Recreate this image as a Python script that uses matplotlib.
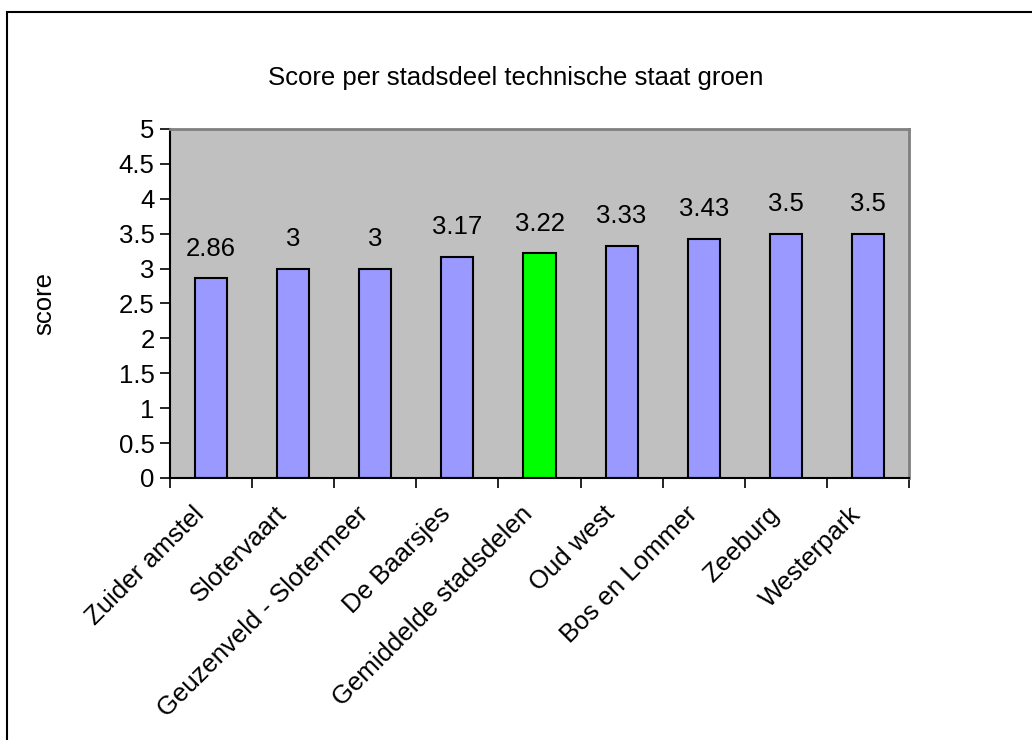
import matplotlib
matplotlib.use("Agg")
import matplotlib.pyplot as plt
from matplotlib.patches import Rectangle
import numpy as np

plt.rcParams['font.family'] = ['Liberation Sans', 'DejaVu Sans']

categories = ["Zuider amstel", "Slotervaart", "Geuzenveld - Slotermeer", "De Baarsjes",
              "Gemiddelde stadsdelen", "Oud west", "Bos en Lommer", "Zeeburg", "Westerpark"]
scores = [2.86, 3, 3, 3.17, 3.22, 3.33, 3.43, 3.5, 3.5]
labels = ["2.86", "3", "3", "3.17", "3.22", "3.33", "3.43", "3.5", "3.5"]
colors = ["#9999FF"] * 4 + ["#00FF00"] + ["#9999FF"] * 4

fs = 18.5
fig = plt.figure(figsize=(10.32, 7.4), dpi=100)
fig.patches.append(Rectangle((7/1032, -0.1), 1.2, 1 - 12/740 + 0.1, transform=fig.transFigure,
                             fill=False, edgecolor='black', linewidth=1.5))

ax = fig.add_axes([170/1032, 1 - 478/740, (909 - 170)/1032, (478 - 129)/740])
ax.set_facecolor('#C0C0C0')
x = np.arange(len(categories))
ax.bar(x, scores, width=0.39, color=colors, edgecolor='black', linewidth=1.5, zorder=2)
for xi, s, lab in zip(x, scores, labels):
    ax.text(xi, s + 0.25, lab, ha='center', va='bottom', fontsize=fs)

ax.set_xlim(-0.5, len(categories) - 0.5)
ax.set_ylim(0, 5)
ax.set_yticks(np.arange(0, 5.01, 0.5))
ax.set_yticklabels(["0", "0.5", "1", "1.5", "2", "2.5", "3", "3.5", "4", "4.5", "5"], fontsize=fs)
ax.set_xticks(np.arange(-0.5, len(categories)))
ax.set_xticklabels([])
ax.tick_params(axis='x', length=7, width=1.2, direction='out')
ax.tick_params(axis='y', length=7, width=1.2, direction='out', pad=4)
for xi, cat in zip(x, categories):
    ax.annotate(cat, xy=(xi, 0), xycoords=('data', 'axes fraction'),
                xytext=(-19 * 0.72, -24 * 0.72), textcoords='offset points',
                rotation=45, ha='right', va='top', rotation_mode='anchor',
                fontsize=fs, annotation_clip=False)

for side in ['top', 'right']:
    ax.spines[side].set_color('#808080')
    ax.spines[side].set_linewidth(2)
for side in ['left', 'bottom']:
    ax.spines[side].set_color('black')
    ax.spines[side].set_linewidth(1.5)

ax.set_ylabel("score", fontsize=fs)
ax.yaxis.set_label_coords((56 - 170) / 739, 0.5)
fig.text(0.5, 1 - 78/740, "Score per stadsdeel technische staat groen", ha='center', va='center', fontsize=fs)

fig.savefig("out.png", dpi=100)
